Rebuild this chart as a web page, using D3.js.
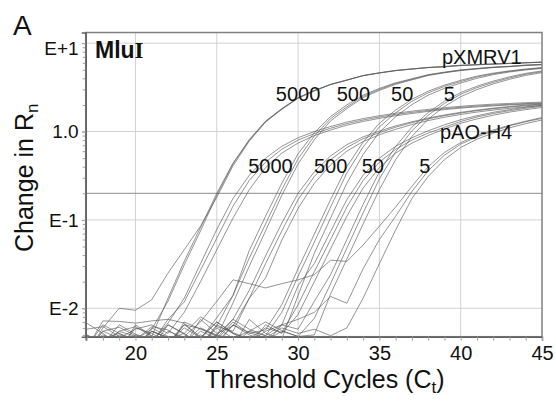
<!DOCTYPE html>
<html>
<head>
<meta charset="utf-8">
<script src="https://cdn.jsdelivr.net/npm/d3@7"></script>
<style>
  body { margin: 0; background: #fff; }
  svg { display: block; font-family: "Liberation Sans", Arial, sans-serif; }
</style>
</head>
<body>
<svg id="chart" width="556" height="401"></svg>
<script>
// cycles on the x axis
var cycles = [17,18,19,20,21,22,23,24,25,26,27,28,29,30,31,32,33,34,35,36,37,38,39,40,41,42,43,44,45];

// delta Rn per cycle (3 replicates per dilution)
var pX5000a = [0.0068,0.0052,0.0038,0.0044,0.0058,0.012,0.031,0.075,0.19,0.43,0.80,1.3,1.8,2.4,2.9,3.4,3.8,4.3,4.6,4.9,5.1,5.3,5.4,5.6,5.7,5.8,5.9,6.0,6.1];
var pX5000b = [0.003,0.006,0.01,0.0095,0.0125,0.025,0.046,0.085,0.18,0.41,0.78,1.28,1.78,2.38,2.88,3.4,3.82,4.3,4.62,4.92,5.12,5.32,5.45,5.62,5.72,5.82,5.92,6.02,6.12];
var pX5000c = [0.0042,0.0036,0.0055,0.0062,0.0048,0.013,0.034,0.082,0.2,0.44,0.81,1.31,1.82,2.42,2.92,3.42,3.84,4.28,4.6,4.88,5.08,5.28,5.4,5.58,5.68,5.78,5.88,5.98,6.08];

var pX500a = [0.0038,0.0046,0.0052,0.0044,0.0062,0.0057,0.0043,0.0036,0.0063,0.014,0.037,0.09,0.22,0.49,0.89,1.4,1.9,2.5,3.0,3.5,3.9,4.36,4.66,4.94,5.14,5.32,5.44,5.62,5.72];
var pX500b = [0.0032,0.0055,0.0061,0.0049,0.004,0.0075,0.0068,0.0045,0.0078,0.014,0.045,0.11,0.26,0.56,0.97,1.48,2.0,2.58,3.08,3.56,3.96,4.4,4.7,4.98,5.18,5.36,5.48,5.66,5.76];
var pX500c = [0.0047,0.0039,0.0034,0.006,0.0052,0.0041,0.0065,0.0059,0.0048,0.0115,0.03,0.075,0.19,0.43,0.81,1.32,1.82,2.42,2.92,3.42,3.84,4.3,4.62,4.9,5.1,5.3,5.42,5.58,5.7];

var pX50a = [0.0033,0.0041,0.0047,0.0038,0.0035,0.0065,0.0052,0.0039,0.006,0.0046,0.0055,0.0049,0.009,0.023,0.056,0.14,0.34,0.67,1.13,1.63,2.2,2.74,3.24,3.68,4.14,4.5,4.8,5.04,5.24];
var pX50b = [0.0038,0.005,0.0042,0.0034,0.0045,0.0039,0.0065,0.0048,0.0044,0.007,0.0052,0.0057,0.011,0.028,0.069,0.17,0.4,0.76,1.24,1.75,2.32,2.86,3.35,3.8,4.24,4.58,4.86,5.1,5.3];
var pX50c = [0.004,0.0036,0.0032,0.0065,0.0049,0.0038,0.0035,0.005,0.0042,0.0037,0.0075,0.0052,0.0045,0.014,0.042,0.105,0.26,0.55,0.98,1.47,2.02,2.58,3.08,3.54,4.0,4.4,4.72,4.98,5.18];

var pX5a = [0.0035,0.0055,0.0046,0.0037,0.0033,0.0045,0.0041,0.006,0.0049,0.0039,0.0055,0.007,0.0056,0.0048,0.0077,0.019,0.048,0.12,0.29,0.59,1.02,1.53,2.08,2.64,3.14,3.6,4.04,4.45,4.75];
var pX5b = [0.0033,0.0039,0.0065,0.0051,0.0044,0.0037,0.0034,0.0045,0.007,0.0052,0.0041,0.0055,0.0065,0.0058,0.012,0.024,0.06,0.15,0.35,0.68,1.12,1.64,2.2,2.76,3.26,3.72,4.16,4.55,4.85];
var pX5c = [0.005,0.0042,0.0036,0.0033,0.0055,0.0046,0.004,0.0035,0.0039,0.0065,0.005,0.0043,0.0055,0.0048,0.005,0.0145,0.036,0.09,0.22,0.48,0.88,1.38,1.92,2.48,2.98,3.46,3.9,4.32,4.64];

var pAO5000a = [0.0035,0.0072,0.0071,0.0068,0.0072,0.0075,0.0118,0.027,0.062,0.143,0.28,0.45,0.63,0.80,0.95,1.09,1.23,1.35,1.46,1.56,1.65,1.73,1.81,1.88,1.94,1.99,2.03,2.07,2.10];
var pAO5000b = [0.0058,0.0062,0.0048,0.0035,0.0042,0.0068,0.013,0.032,0.078,0.175,0.32,0.5,0.68,0.85,1.0,1.14,1.28,1.4,1.51,1.61,1.7,1.78,1.86,1.93,1.99,2.04,2.08,2.12,2.15];
var pAO5000c = [0.005,0.0039,0.0046,0.0058,0.0065,0.0052,0.009,0.02,0.046,0.105,0.22,0.39,0.57,0.74,0.9,1.04,1.18,1.3,1.41,1.51,1.6,1.69,1.77,1.84,1.9,1.95,2.0,2.04,2.07];

var pAO500a = [0.0036,0.0048,0.0043,0.0039,0.0055,0.0047,0.0038,0.0075,0.0052,0.0063,0.013,0.032,0.075,0.17,0.31,0.48,0.66,0.83,0.97,1.12,1.26,1.39,1.51,1.62,1.72,1.81,1.89,1.96,2.02];
var pAO500b = [0.0045,0.0038,0.0033,0.005,0.0044,0.0035,0.007,0.0058,0.005,0.0075,0.016,0.039,0.092,0.2,0.35,0.53,0.71,0.87,1.01,1.16,1.29,1.42,1.54,1.65,1.75,1.84,1.92,1.99,2.05];
var pAO500c = [0.0034,0.004,0.0055,0.0048,0.0037,0.0045,0.0052,0.008,0.0062,0.0055,0.013,0.022,0.059,0.135,0.26,0.42,0.6,0.77,0.92,1.06,1.2,1.33,1.45,1.56,1.66,1.75,1.83,1.9,1.97];

var pAO50a = [0.0034,0.0038,0.005,0.0043,0.0036,0.0041,0.006,0.0047,0.007,0.0053,0.0045,0.006,0.0053,0.011,0.026,0.06,0.14,0.28,0.45,0.63,0.80,0.96,1.12,1.30,1.46,1.6,1.72,1.83,1.93];
var pAO50b = [0.0036,0.0045,0.0039,0.0033,0.006,0.0048,0.0037,0.0055,0.0046,0.0075,0.0058,0.0049,0.0065,0.018,0.032,0.074,0.17,0.32,0.5,0.68,0.85,1.02,1.19,1.36,1.51,1.65,1.77,1.88,1.98];
var pAO50c = [0.0045,0.0037,0.0033,0.0038,0.0042,0.0065,0.0051,0.0039,0.005,0.0044,0.0038,0.0065,0.0052,0.0085,0.02,0.047,0.11,0.23,0.39,0.57,0.74,0.9,1.07,1.24,1.39,1.53,1.66,1.77,1.87];

var pAO5a = [0.0034,0.0037,0.0045,0.0039,0.0035,0.0055,0.0047,0.0038,0.0065,0.0052,0.0044,0.0039,0.0065,0.0075,0.009,0.0136,0.0114,0.028,0.06,0.11,0.21,0.36,0.54,0.72,0.87,1.01,1.16,1.29,1.41];
var pAO5b = [0.0036,0.0065,0.0052,0.0041,0.0035,0.0042,0.0048,0.007,0.012,0.021,0.019,0.017,0.019,0.021,0.024,0.035,0.034,0.052,0.085,0.14,0.24,0.4,0.58,0.75,0.9,1.04,1.18,1.31,1.44];
var pAO5c = [0.0045,0.0039,0.0034,0.0037,0.0055,0.0046,0.0038,0.0045,0.0041,0.0065,0.0053,0.0046,0.006,0.0052,0.0058,0.0049,0.006,0.013,0.032,0.077,0.175,0.31,0.48,0.66,0.82,0.96,1.1,1.23,1.35];

var threshold = 0.2;
var yTickValues = [0.01, 0.1, 1, 10];
var yTickLabels = ['E-2', 'E-1', '1.0', 'E+1'];
var xTickValues = [20, 25, 30, 35, 40, 45];

// dilution labels: [text, cycle, value]
var pXLabels = [['5000', 30.0, 2.2], ['500', 33.4, 2.2], ['50', 36.4, 2.2], ['5', 39.3, 2.2]];
var pAOLabels = [['5000', 28.3, 0.34], ['500', 32.0, 0.34], ['50', 34.6, 0.34], ['5', 37.8, 0.34]];

var allSeries = [pX5000a, pX5000b, pX5000c, pX500a, pX500b, pX500c, pX50a, pX50b, pX50c,
                 pX5a, pX5b, pX5c, pAO5000a, pAO5000b, pAO5000c, pAO500a, pAO500b, pAO500c,
                 pAO50a, pAO50b, pAO50c, pAO5a, pAO5b, pAO5c];

var plotLeft = 85.7, plotRight = 542, plotTop = 32.5, plotBottom = 336.7;

var svg = d3.select('#chart');

var x = d3.scaleLinear().domain([16.94, 45]).range([plotLeft, plotRight]);
var y = d3.scaleLog().domain([0.00477, 13.2]).range([plotBottom, plotTop]);

// grid
var grid = svg.append('g');
grid.selectAll('line.vx')
    .data(xTickValues.slice(0, -1))
    .enter().append('line')
    .attr('x1', function(d) { return x(d); })
    .attr('x2', function(d) { return x(d); })
    .attr('y1', plotTop).attr('y2', plotBottom)
    .attr('stroke', '#d2d2d2').attr('stroke-width', 1);
grid.selectAll('line.hy')
    .data(yTickValues)
    .enter().append('line')
    .attr('x1', plotLeft).attr('x2', plotRight)
    .attr('y1', function(d) { return y(d); })
    .attr('y2', function(d) { return y(d); })
    .attr('stroke', '#d2d2d2').attr('stroke-width', 1);

// threshold line
svg.append('line')
    .attr('x1', plotLeft).attr('x2', plotRight)
    .attr('y1', y(threshold)).attr('y2', y(threshold))
    .attr('stroke', '#8c8c8c').attr('stroke-width', 1);

// curves
svg.append('clipPath').attr('id', 'clip')
  .append('rect').attr('x', plotLeft).attr('y', plotTop)
  .attr('width', plotRight - plotLeft).attr('height', plotBottom - plotTop);

var line = d3.line()
    .x(function(d, i) { return x(cycles[i]); })
    .y(function(d) { return y(d); });

svg.append('g').attr('clip-path', 'url(#clip)')
  .selectAll('path')
  .data(allSeries)
  .enter().append('path')
  .attr('d', line)
  .attr('fill', 'none')
  .attr('stroke', '#575757')
  .attr('stroke-width', 0.8)
  .attr('stroke-opacity', 0.8);

// frame
svg.append('rect')
    .attr('x', plotLeft).attr('y', plotTop)
    .attr('width', plotRight - plotLeft).attr('height', plotBottom - plotTop)
    .attr('fill', 'none').attr('stroke', '#808080').attr('stroke-width', 1.5);

// x axis
var xAxis = svg.append('g')
    .attr('transform', 'translate(0,' + plotBottom + ')')
    .call(d3.axisBottom(x).tickValues(cycles).tickSize(4).tickPadding(5)
      .tickFormat(function(d) { return d % 5 === 0 ? d : ''; }));
xAxis.select('.domain').attr('stroke', '#606060').attr('stroke-width', 1.5);
xAxis.selectAll('.tick line').attr('stroke', '#a0a0a0');
xAxis.selectAll('.tick text').attr('font-size', 20).attr('fill', '#111')
    .attr('font-family', '"Liberation Sans", Arial, sans-serif');

// y axis minor ticks
var yMinor = svg.append('g')
    .attr('transform', 'translate(' + plotLeft + ',0)')
    .call(d3.axisLeft(y).tickValues(y.ticks()).tickSize(3).tickFormat(''));
yMinor.select('.domain').remove();
yMinor.selectAll('.tick line').attr('stroke', '#a0a0a0');

// y axis major labels
var yAxis = svg.append('g')
    .attr('transform', 'translate(' + plotLeft + ',0)')
    .call(d3.axisLeft(y).tickValues(yTickValues).tickSize(4).tickPadding(3)
      .tickFormat(function(d, i) { return yTickLabels[i]; }));
yAxis.select('.domain').attr('stroke', '#606060').attr('stroke-width', 1.5);
yAxis.selectAll('.tick line').attr('stroke', '#a0a0a0');
yAxis.selectAll('.tick text').attr('font-size', 19).attr('fill', '#111')
    .attr('font-family', '"Liberation Sans", Arial, sans-serif');
yAxis.selectAll('.tick').filter(function(d) { return d === 10; })
    .select('text').attr('dy', '0.62em');

// panel letter and enzyme
svg.append('text').attr('x', 13).attr('y', 35)
    .attr('font-size', 28).attr('fill', '#111').text('A');
var enz = svg.append('text').attr('x', 95).attr('y', 58)
    .attr('font-size', 23).attr('font-weight', 'bold').attr('fill', '#111');
enz.append('tspan').text('Mlu');
enz.append('tspan').attr('font-family', '"Liberation Serif", serif').text('I');

// series names
svg.append('text').attr('x', 442).attr('y', 64)
    .attr('font-size', 20).attr('fill', '#111').text('pXMRV1');
svg.append('text').attr('x', 440).attr('y', 139)
    .attr('font-size', 20).attr('fill', '#111').text('pAO-H4');

// dilution labels
svg.append('g').selectAll('text')
  .data(pXLabels.concat(pAOLabels))
  .enter().append('text')
  .attr('x', function(d) { return x(d[1]); })
  .attr('y', function(d) { return y(d[2]); })
  .attr('text-anchor', 'middle')
  .attr('font-size', 20).attr('fill', '#111')
  .text(function(d) { return d[0]; });

// axis titles
var xt = svg.append('text').attr('x', 205).attr('y', 388)
    .attr('font-size', 25).attr('fill', '#111');
xt.append('tspan').text('Threshold Cycles (C');
xt.append('tspan').attr('font-size', 17).attr('dy', 5).text('t');
xt.append('tspan').attr('dy', -5).text(')');

var yt = svg.append('text')
    .attr('transform', 'translate(33,252) rotate(-90)')
    .attr('font-size', 25).attr('fill', '#111');
yt.append('tspan').text('Change in R');
yt.append('tspan').attr('font-size', 17).attr('dy', 5).text('n');
</script>
</body>
</html>
